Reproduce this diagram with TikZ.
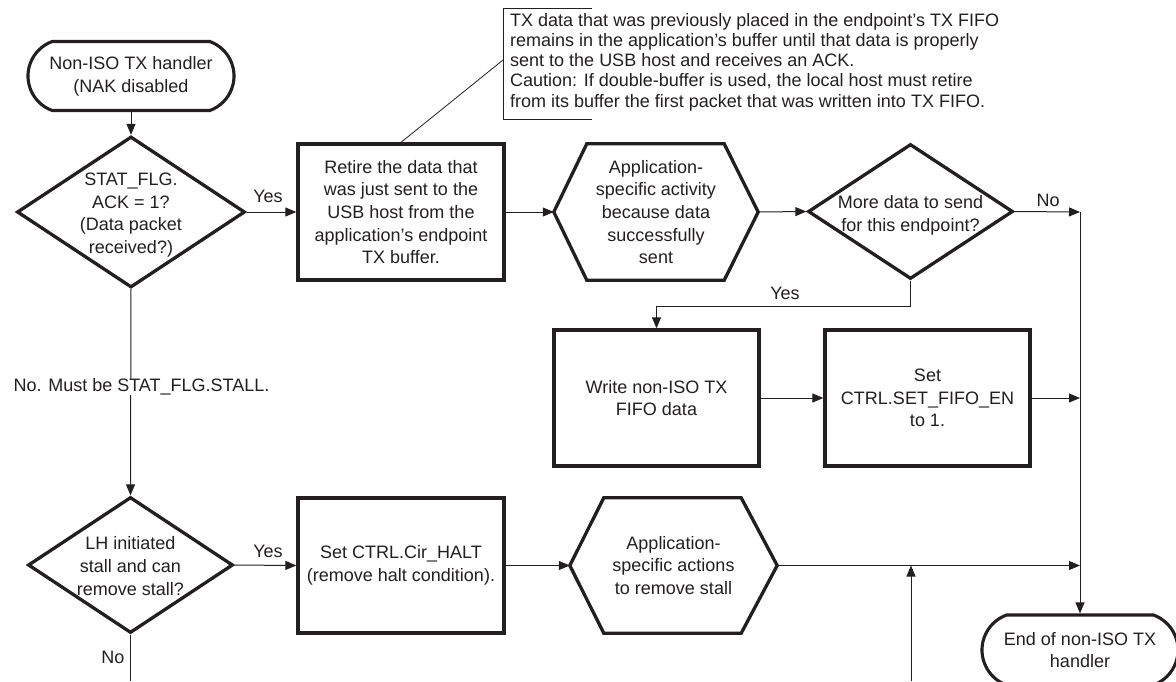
\documentclass[tikz,border=0pt]{standalone}
\usepackage{fontspec}
\setmainfont{Liberation Sans}
\usetikzlibrary{shapes.geometric,shapes.misc,arrows.meta}
\definecolor{ink}{RGB}{35,31,32}
\begin{document}
\begin{tikzpicture}[x=1pt,y=-1pt,
  txt/.style={font=\fontsize{18pt}{22.7pt}\selectfont, text=ink, align=center, inner sep=0pt},
  proc/.style={txt, draw=ink, line width=3.3pt, rectangle, minimum width=206pt, minimum height=136pt},
  dec/.style={draw=ink, line width=3.3pt, diamond, inner sep=0pt},
  term/.style={txt, draw=ink, line width=3.1pt, rounded rectangle, rounded rectangle arc length=140, minimum width=206pt, minimum height=69pt},
  hexa/.style={txt, rectangle, minimum height=136pt},
  hexline/.style={draw=ink, line width=3.3pt, line join=miter},
  conn/.style={draw=ink, line width=1pt, -{Triangle[length=11pt,width=9pt]}},
  wire/.style={draw=ink, line width=1pt},
  lab/.style={font=\fontsize{18pt}{22pt}\selectfont, text=ink, inner sep=1pt}
]
\useasboundingbox (0,0) rectangle (1176,681);

% start
\node[term] (start) at (131,76) {Non-ISO TX handler\\(NAK disabled};

% decision 1
\node[dec, minimum width=228pt, minimum height=151pt] (d1) at (131,212) {};
\node[txt] (d1t) at (131,215) {STAT\_FLG.\\ACK = 1?\\(Data packet\\received?)};

% box 1
\node[proc] (b1) at (401,212) {Retire the data that\\was just sent to the\\USB host from the\\application’s endpoint\\TX buffer.};

% callout
\coordinate (ct) at (592,8);
\coordinate (cc) at (503,8);
\coordinate (cb) at (503,119);
\coordinate (cbr) at (592,119);
\coordinate (cl) at (503,60);
\draw[wire, line width=0.8pt] (ct) -- (cc) -- (cb) -- (cbr);
\draw[wire, line width=0.8pt] (b1.north) -- (cl);
\node[txt, anchor=west, align=left, font=\fontsize{18pt}{20.3pt}\selectfont] (note) at (510,62)
 {TX data that was previously placed in the endpoint’s TX FIFO\\
  remains in the application’s buffer until that data is properly\\
  sent to the USB host and receives an ACK.\\
  Caution: If double-buffer is used, the local host must retire\\
  from its buffer the first packet that was written into TX FIFO.};

% hexagon 1
\node[hexa, minimum width=204pt] (h1) at (656,212) {Application-\\specific activity\\because data\\successfully\\sent};
\draw[hexline] (h1.west) -- ([xshift=33pt]h1.north west) -- ([xshift=-34pt]h1.north east) -- (h1.east)
  -- ([xshift=-34pt]h1.south east) -- ([xshift=33pt]h1.south west) -- cycle;

% decision 2
\node[dec, minimum width=205pt, minimum height=135pt] (d2) at (910.5,211.5) {};
\node[txt] (d2t) at (910.5,215) {More data to send\\for this endpoint?};

% write / set boxes
\node[proc, minimum width=205pt] (w) at (656.5,398) {Write non-ISO TX\\FIFO data};
\node[proc, minimum width=205pt] (s) at (927.5,398) {Set\\CTRL.SET\_FIFO\_EN\\to 1.};

% decision 3
\node[dec, minimum width=205pt, minimum height=136pt] (d3) at (130.5,565) {};
\node[txt] (d3t) at (130.5,566) {LH initiated\\stall and can\\remove stall?};

% box 3
\node[proc, minimum height=135pt] (b3) at (401,565.5) {Set CTRL.Cir\_HALT\\(remove halt condition).};

% hexagon 2
\node[hexa, minimum width=207pt, minimum height=135pt] (h2) at (673.5,565.5) {Application-\\specific actions\\to remove stall};
\draw[hexline] (h2.west) -- ([xshift=34pt]h2.north west) -- ([xshift=-36pt]h2.north east) -- (h2.east)
  -- ([xshift=-36pt]h2.south east) -- ([xshift=34pt]h2.south west) -- cycle;

% end
\node[term, minimum width=196pt, minimum height=70pt] (endn) at (1080,650) {End of non-ISO TX\\handler};

% junctions
\coordinate (j1) at (1080,212);
\coordinate (j2) at (1080,398);
\coordinate (j3) at (1080,565.5);
\coordinate (m1) at (911,565.5);
\coordinate (bot1) at (911,681);
\coordinate (bot2) at (130.5,681);

% connectors
\draw[conn] (start.south) -- (d1.north);
\draw[conn] (d1.east) -- (b1.west);
\draw[conn] (b1.east) -- (h1.west);
\draw[conn] (h1.east) -- (d2.west);
\draw[conn] (d2.east) -- (j1);
\draw[conn] (j1) -- (endn.north);
\draw[conn] (d2.south) -- ++(0,26) -| (w.north);
\draw[conn] (w.east) -- (s.west);
\draw[conn] (s.east) -- (j2);
\draw[conn] (d1.south) -- (d3.north);
\draw[conn] (d3.east) -- (b3.west);
\draw[conn] (b3.east) -- (h2.west);
\draw[conn] (h2.east) -- (j3);
\draw[conn] (bot1) -- (m1);
\draw[wire] (d3.south) -- (bot2);

% labels
\node[lab] (l1) at (268,196) {Yes};
\node[lab] (l2) at (785,293) {Yes};
\node[lab] (l3) at (1048,200) {No};
\node[lab] (l4) at (268,551) {Yes};
\node[lab] (l5) at (113,657) {No};
\node[lab, fill=white, inner sep=0pt] (l6) at (141.5,387) {No. Must be STAT\_FLG.STALL.};
\end{tikzpicture}
\end{document}
